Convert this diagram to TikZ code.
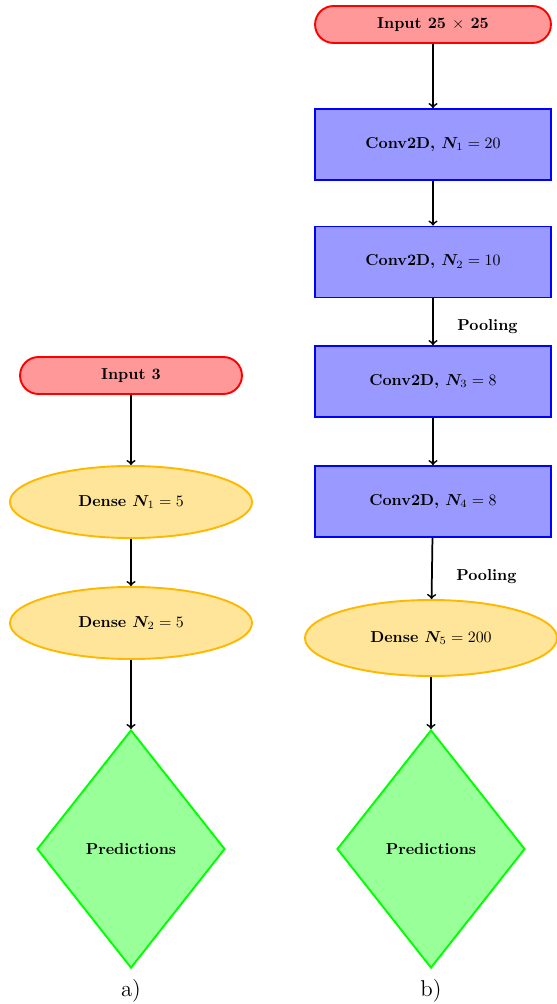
\documentclass[tikz,border=0pt]{standalone}
\usepackage{bm}
\usetikzlibrary{shapes.misc,shapes.geometric}
\definecolor{inred}{HTML}{FF9999}
\definecolor{convblue}{HTML}{9999FF}
\definecolor{densefill}{HTML}{FFE599}
\definecolor{denseline}{HTML}{FFB800}
\definecolor{predgreen}{HTML}{99FF99}
\begin{document}
\begin{tikzpicture}[x=0.63pt,y=-0.63pt,
  every node/.style={font=\bfseries},
  inputbox/.style={rounded rectangle, draw=red, fill=inred, line width=1.2pt, minimum height=23.3pt, inner sep=1pt},
  convbox/.style={rectangle, draw=blue, fill=convblue, line width=1.2pt, minimum width=148.7pt, minimum height=44.7pt},
  densebox/.style={ellipse, draw=denseline, fill=densefill, line width=1.2pt, inner sep=0pt},
  predbox/.style={diamond, draw=green, fill=predgreen, line width=1.2pt, inner sep=0pt, minimum width=118.4pt, minimum height=150pt},
  arr/.style={->, line width=1.1pt},
  pool/.style={font=\bfseries, anchor=west, xshift=11.5pt},
  caplabel/.style={font=\Large}
]
\useasboundingbox (0,0) rectangle (557,1004);
% left column
\node[inputbox, minimum width=141.8pt] (lin) at (131,375.5) {Input 3};
\node[densebox, minimum width=152.5pt, minimum height=45.4pt] (ld1) at (131,502) {Dense $\bm{N}_1 = 5$};
\node[densebox, minimum width=152.5pt, minimum height=45.4pt] (ld2) at (131,623) {Dense $\bm{N}_2 = 5$};
\node[predbox] (lpred) at (131,849) {Predictions};
\node[caplabel] (la) at (131,991) {a)};
\draw[arr] (lin) -- (ld1);
\draw[arr] (ld1) -- (ld2);
\draw[arr] (ld2) -- (lpred);
% right column
\node[inputbox, minimum width=150.6pt] (rin) at (433,24.5) {Input 25 $\times$ 25};
\node[convbox] (c1) at (433,144.5) {Conv2D, $\bm{N}_1 = 20$};
\node[convbox] (c2) at (433,262) {Conv2D, $\bm{N}_2 = 10$};
\node[convbox] (c3) at (433,381.5) {Conv2D, $\bm{N}_3 = 8$};
\node[convbox] (c4) at (433,501.5) {Conv2D, $\bm{N}_4 = 8$};
\node[densebox, minimum width=158.8pt, minimum height=47.9pt] (rd5) at (431,638) {Dense $\bm{N}_5 = 200$};
\node[predbox] (rpred) at (431,849) {Predictions};
\node[caplabel] (rb) at (431,991) {b)};
\draw[arr] (rin) -- (c1);
\draw[arr] (c1) -- (c2);
\draw[arr] (c2) -- node[pool, pos=0.6] (p1) {Pooling} (c3);
\draw[arr] (c3) -- (c4);
\draw[arr] (c4) -- node[pool, pos=0.63] (p2) {Pooling} (rd5);
\draw[arr] (rd5) -- (rpred);
\end{tikzpicture}
\end{document}
